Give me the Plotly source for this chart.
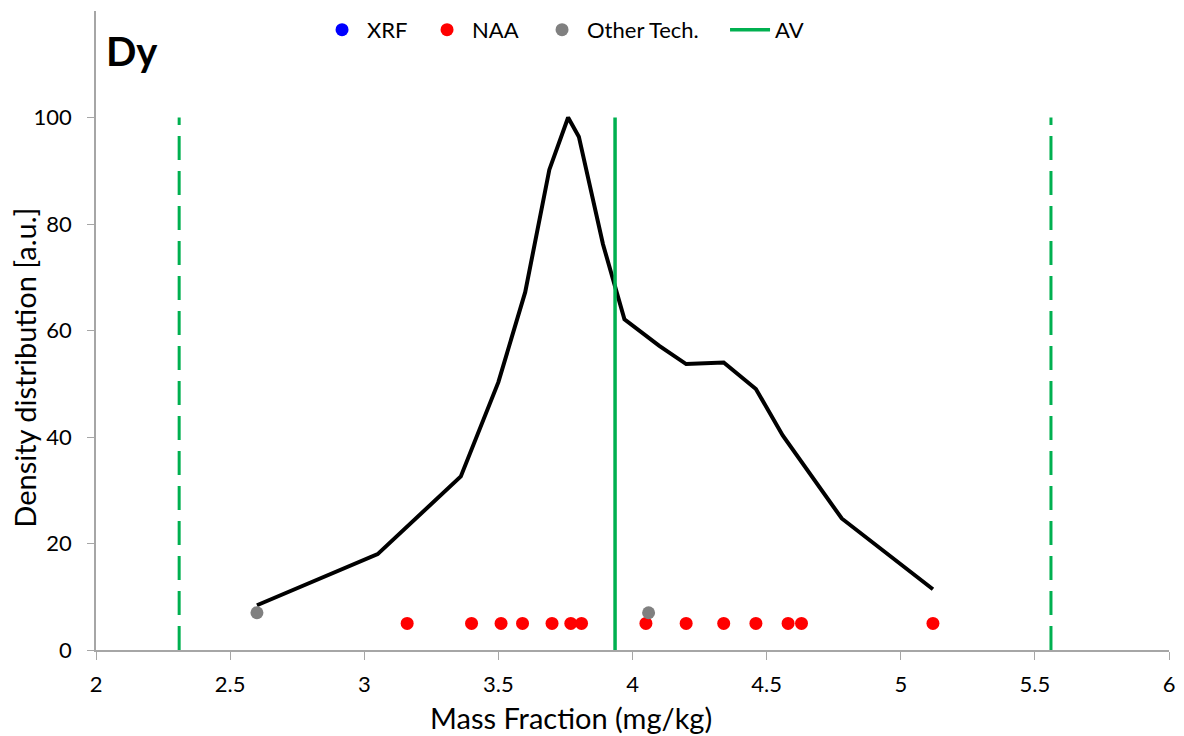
import plotly.graph_objects as go

# Density curve (KDE)
curve_x = [2.60, 3.05, 3.36, 3.50, 3.60, 3.69, 3.76, 3.80, 3.89, 3.97, 4.10, 4.20, 4.34, 4.46, 4.56, 4.78, 5.12]
curve_y = [8.4, 18.0, 32.6, 50.3, 67.2, 90.2, 100.0, 96.4, 76.2, 62.1, 57.1, 53.7, 54.0, 49.0, 40.3, 24.7, 11.4]

# Lab results
xrf_x = []
xrf_y = []
naa_x = [3.16, 3.40, 3.51, 3.59, 3.70, 3.77, 3.81, 4.05, 4.20, 4.34, 4.46, 4.58, 4.63, 5.12]
naa_y = [5] * len(naa_x)
other_x = [2.60, 4.06]
other_y = [7, 7]

# Assigned value and limits
av_value = 3.935
limits = [2.31, 5.56]
line_y = [0, 100]

x_ticks = [2, 2.5, 3, 3.5, 4, 4.5, 5, 5.5, 6]
x_labels = ["2", "2.5", "3", "3.5", "4", "4.5", "5", "5.5", "6"]
y_ticks = [0, 20, 40, 60, 80, 100]

font_family = "Lato, 'Open Sans', sans-serif"
green = "#00B050"
axis_gray = "#A6A6A6"

fig = go.Figure()

fig.add_trace(go.Scatter(x=curve_x, y=curve_y, mode="lines",
                         line=dict(color="black", width=4), showlegend=False))
for lx in limits:
    fig.add_trace(go.Scatter(x=[lx, lx], y=line_y, mode="lines",
                             line=dict(color=green, width=3, dash="24px,11px"),
                             showlegend=False))
fig.add_trace(go.Scatter(x=xrf_x if xrf_x else [None], y=xrf_y if xrf_y else [None],
                         mode="markers", name="XRF", legendwidth=50,
                         marker=dict(color="#0000FF", size=13)))
fig.add_trace(go.Scatter(x=naa_x, y=naa_y, mode="markers", name="NAA", legendwidth=60,
                         marker=dict(color="#FF0000", size=13)))
fig.add_trace(go.Scatter(x=other_x, y=other_y, mode="markers", name="Other Tech.",
                         legendwidth=133,
                         marker=dict(color="#808080", size=13)))
fig.add_trace(go.Scatter(x=[av_value, av_value], y=line_y, mode="lines", name="AV",
                         legendwidth=40,
                         line=dict(color=green, width=3.5)))

# The page body adds an 8px offset; size the figure so the plot area lands where it should
fig.update_layout(
    width=1176, height=728,
    margin=dict(l=88, r=15, t=2, b=86),
    plot_bgcolor="white", paper_bgcolor="white",
    font=dict(family=font_family, size=22, color="black"),
    legend=dict(orientation="h", x=0.206, xanchor="left", y=0.969, yanchor="middle",
                font=dict(size=22), bgcolor="rgba(0,0,0,0)", itemwidth=40),
    xaxis=dict(range=[2, 6], tickvals=x_ticks, ticktext=x_labels, automargin=False,
               showgrid=False, zeroline=False, showline=True, linecolor=axis_gray,
               linewidth=1.5, ticks="outside", ticklen=8, tickcolor=axis_gray,
               tickfont=dict(size=22), ticklabelstandoff=6),
    yaxis=dict(range=[0, 120], tickvals=y_ticks, automargin=False,
               showgrid=False, zeroline=False, showline=True, linecolor=axis_gray,
               linewidth=1.5, ticks="outside", ticklen=7, tickcolor=axis_gray,
               tickfont=dict(size=22), ticklabelstandoff=11),
    annotations=[
        dict(text="<b>Dy</b>", x=0.007, y=0.978, xref="paper", yref="paper",
             xanchor="left", yanchor="top", showarrow=False,
             font=dict(size=40, color="black")),
        dict(text="Mass Fraction (mg/kg)", x=0.4427, y=-0.105, xref="paper", yref="paper",
             xanchor="center", yanchor="middle", showarrow=False,
             font=dict(size=29, color="black")),
        dict(text="Density distribution [a.u.]", x=-0.067, y=0.442, xref="paper", yref="paper",
             xanchor="center", yanchor="middle", showarrow=False, textangle=-90,
             font=dict(size=29, color="black")),
    ],
)

fig.write_html("out.html")
